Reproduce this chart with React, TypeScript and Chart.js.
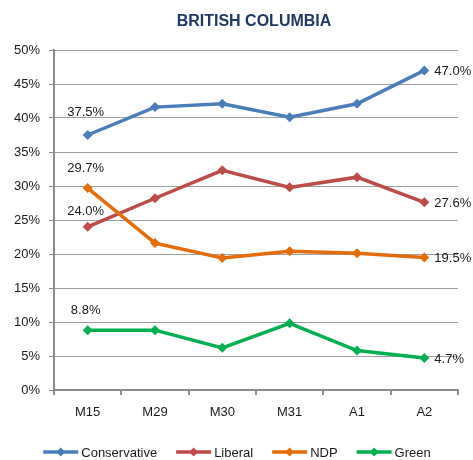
import React, { useEffect, useRef } from "react";
import { Chart, registerables } from "chart.js";

Chart.register(...registerables);

const categories = ["M15", "M29", "M30", "M31", "A1", "A2"];
const conservative = [37.5, 41.6, 42.1, 40.1, 42.1, 47.0];
const liberal = [24.0, 28.2, 32.3, 29.8, 31.3, 27.6];
const ndp = [29.7, 21.6, 19.4, 20.4, 20.1, 19.5];
const green = [8.8, 8.8, 6.2, 9.8, 5.8, 4.7];
const seriesNames = ["Conservative", "Liberal", "NDP", "Green"];
const seriesColors = ["#4A7EBB", "#BE4B48", "#E46C0A", "#00B050"];
const yTicks = [0, 5, 10, 15, 20, 25, 30, 35, 40, 45, 50];
const title = "BRITISH COLUMBIA";

const FONT = "'Liberation Sans', Arial, sans-serif";
const firstLabelDy = [-23, -15, -20, -20];

const labelPlugin = {
  id: "endLabels",
  afterDatasetsDraw(chart: any) {
    const ctx = chart.ctx;
    ctx.save();
    ctx.font = `13px ${FONT}`;
    ctx.fillStyle = "#1a1a1a";
    ctx.textBaseline = "middle";
    chart.data.datasets.forEach((ds: any, i: number) => {
      const meta = chart.getDatasetMeta(i);
      const first = meta.data[0];
      const last = meta.data[meta.data.length - 1];
      const v0 = ds.data[0];
      const vn = ds.data[ds.data.length - 1];
      ctx.textAlign = "center";
      ctx.fillText(v0.toFixed(1) + "%", first.x - 2, first.y + firstLabelDy[i]);
      ctx.textAlign = "left";
      ctx.fillText(vn.toFixed(1) + "%", last.x + 10, last.y + 1);
    });
    ctx.restore();
  },
};

const decorPlugin = {
  id: "decor",
  afterDraw(chart: any) {
    const ctx = chart.ctx;
    ctx.save();
    ctx.font = `bold 16px ${FONT}`;
    ctx.fillStyle = "#1F3864";
    ctx.textAlign = "center";
    ctx.textBaseline = "alphabetic";
    ctx.fillText(title, 254, 26);
    ctx.font = `13px ${FONT}`;
    const lineLen = 35;
    const gap = 3;
    const itemGap = 19;
    const widths = seriesNames.map((n) => ctx.measureText(n).width);
    const total =
      widths.reduce((a, w) => a + lineLen + gap + w, 0) + itemGap * (seriesNames.length - 1);
    let x = 237 - total / 2;
    const y = 452;
    seriesNames.forEach((n, i) => {
      ctx.strokeStyle = seriesColors[i];
      ctx.lineWidth = 3.5;
      ctx.beginPath();
      ctx.moveTo(x, y);
      ctx.lineTo(x + lineLen, y);
      ctx.stroke();
      ctx.fillStyle = seriesColors[i];
      const cx = x + lineLen / 2;
      const r = 4.5;
      ctx.beginPath();
      ctx.moveTo(cx, y - r);
      ctx.lineTo(cx + r, y);
      ctx.lineTo(cx, y + r);
      ctx.lineTo(cx - r, y);
      ctx.closePath();
      ctx.fill();
      ctx.fillStyle = "#1a1a1a";
      ctx.textAlign = "left";
      ctx.textBaseline = "middle";
      ctx.fillText(n, x + lineLen + gap, y + 1);
      x += lineLen + gap + widths[i] + itemGap;
    });
    ctx.restore();
  },
};

export default function App() {
  const ref = useRef<HTMLCanvasElement | null>(null);
  useEffect(() => {
    if (!ref.current) return;
    const allData = [conservative, liberal, ndp, green];
    const orders = [3, 2, 1, 0];
    const chart = new Chart(ref.current, {
      type: "line",
      data: {
        labels: categories,
        datasets: allData.map((d, i) => ({
          label: seriesNames[i],
          data: d,
          borderColor: seriesColors[i],
          backgroundColor: seriesColors[i],
          borderWidth: 3.5,
          pointStyle: "rectRot",
          pointRadius: 5,
          pointBorderWidth: 0,
          tension: 0,
          fill: false,
          order: orders[i],
        })),
      },
      options: {
        responsive: false,
        animation: false,
        layout: { padding: { left: 0, right: 15, top: 50, bottom: 30 } },
        plugins: {
          legend: { display: false },
          title: { display: false },
          tooltip: { enabled: false },
        },
        scales: {
          x: {
            offset: true,
            grid: {
              display: true,
              drawOnChartArea: false,
              drawTicks: true,
              tickLength: 5,
              color: "#8c8c8c",
              lineWidth: 2,
              offset: true,
            },
            border: { display: true, color: "#8c8c8c", width: 2 },
            ticks: {
              color: "#1a1a1a",
              font: { family: FONT, size: 13 },
              padding: 10,
              maxRotation: 0,
            },
            afterFit(scale: any) {
              scale.height = 40;
            },
          },
          y: {
            min: 0,
            max: 50,
            afterBuildTicks(scale: any) {
              scale.ticks = yTicks.map((v) => ({ value: v }));
            },
            grid: {
              color: "#a0a0a0",
              lineWidth: 1,
              drawTicks: true,
              tickLength: 5,
              tickColor: "#8c8c8c",
            },
            border: { display: true, color: "#8c8c8c", width: 2 },
            ticks: {
              color: "#1a1a1a",
              font: { family: FONT, size: 13 },
              padding: 9,
              callback: (v: any) => v + "%",
            },
            afterFit(scale: any) {
              scale.width = 54;
            },
          },
        },
      },
      plugins: [labelPlugin, decorPlugin],
    } as any);
    return () => chart.destroy();
  }, []);
  return (
    <div style={{ position: "absolute", left: 0, top: 0, width: 473, height: 460, background: "#fff" }}>
      <canvas ref={ref} width={473} height={460} style={{ width: 473, height: 460 }} />
    </div>
  );
}
